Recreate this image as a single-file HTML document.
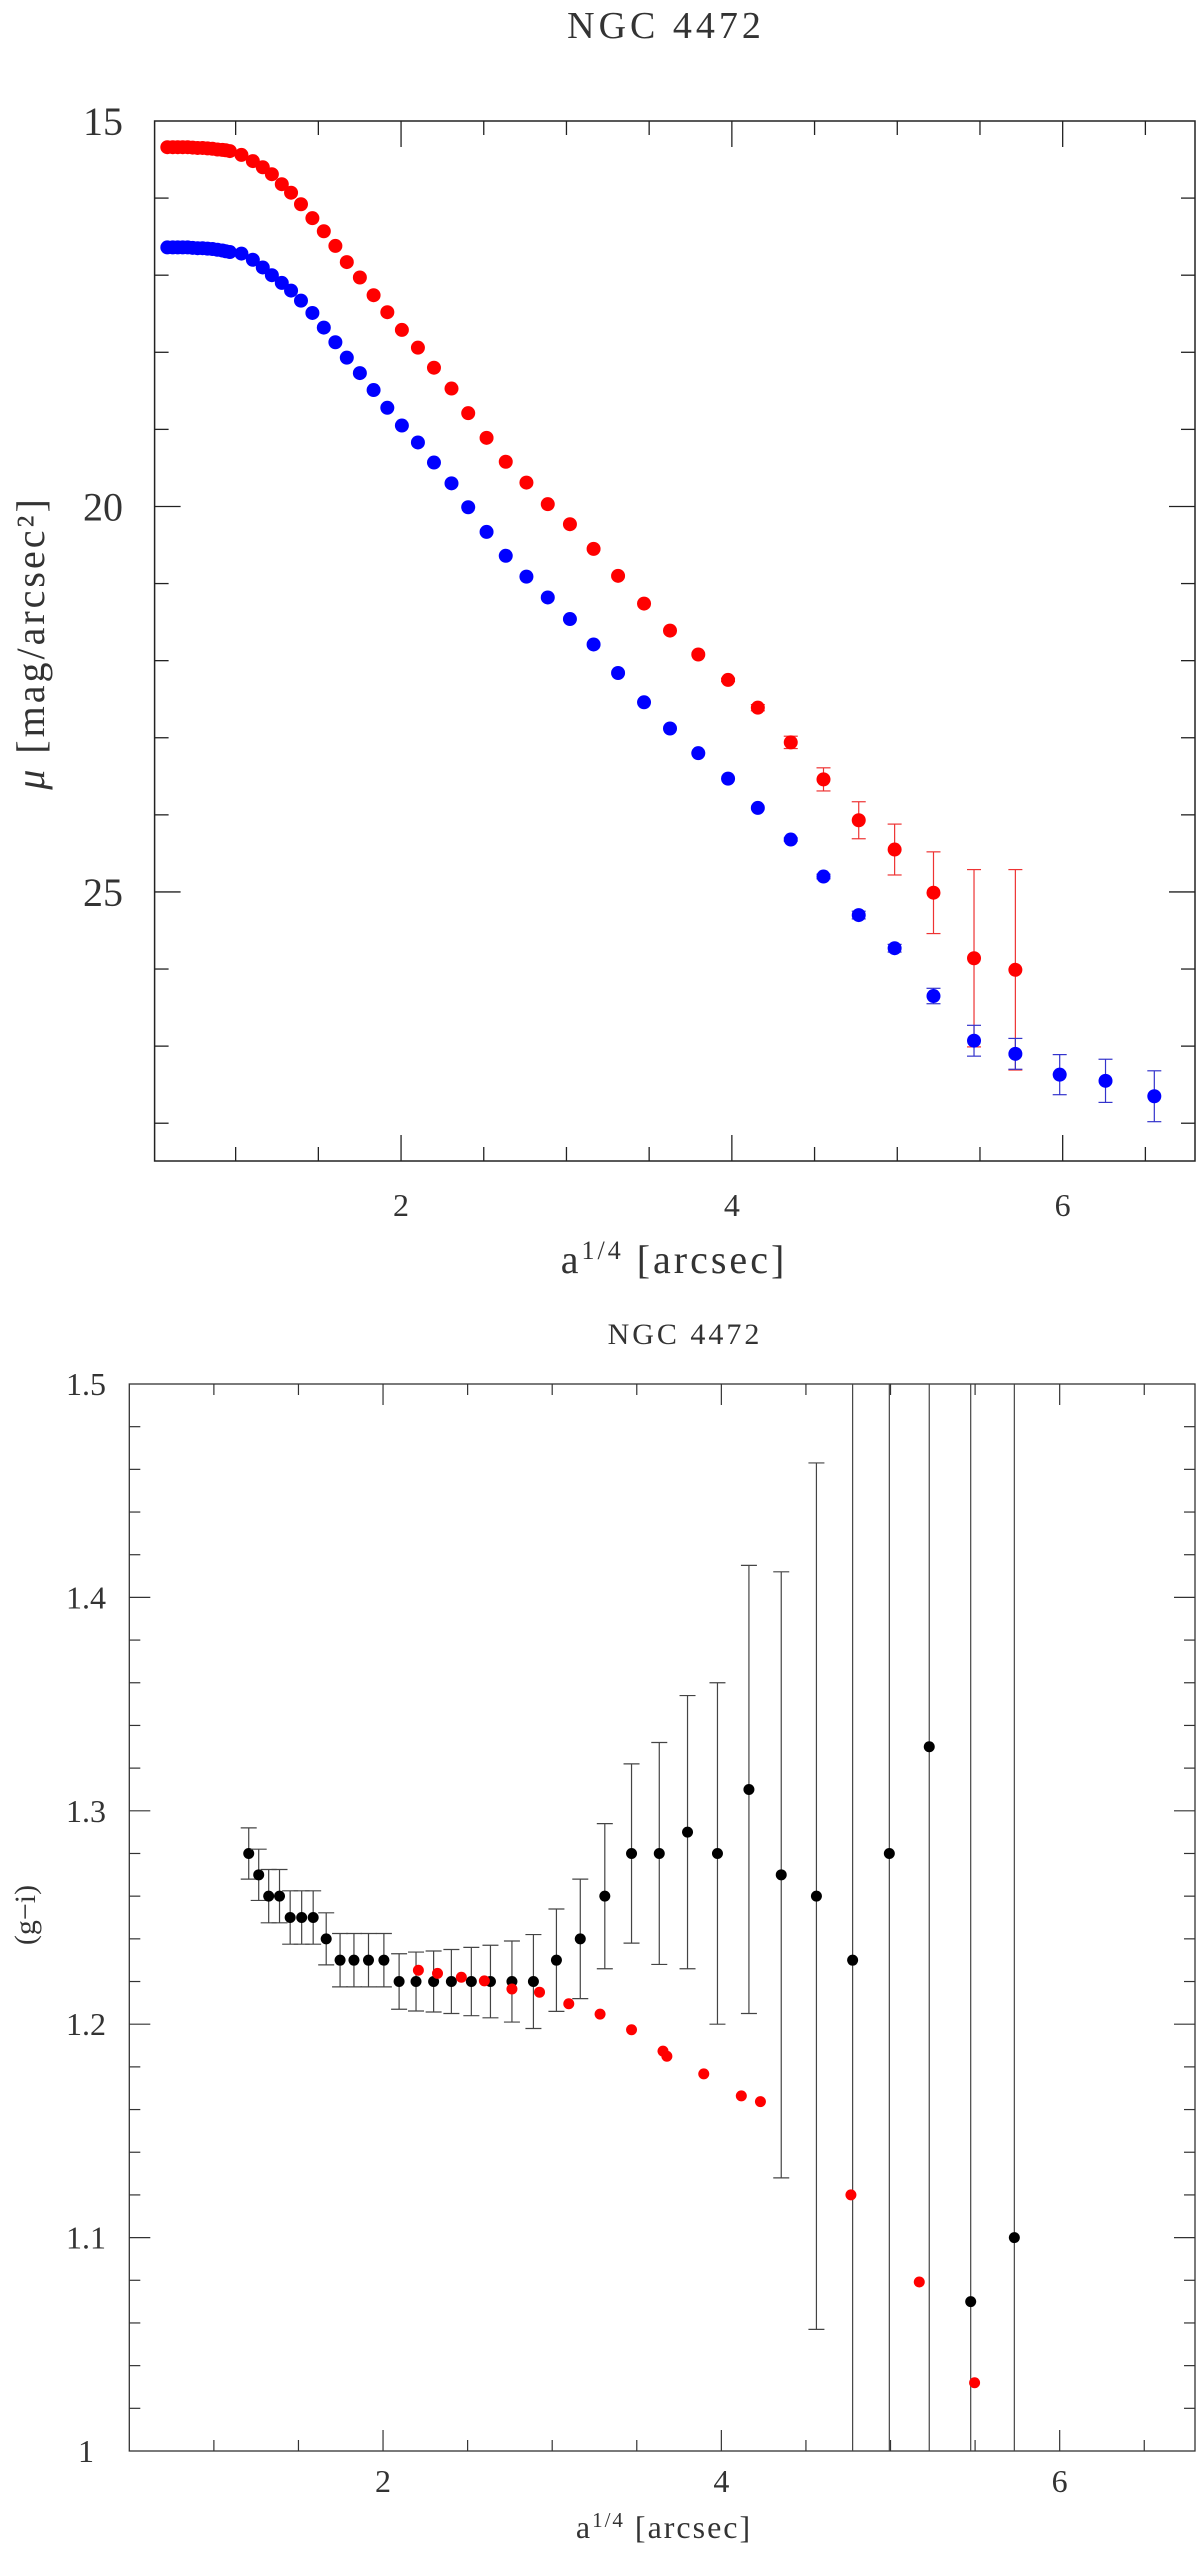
<!DOCTYPE html>
<html><head><meta charset="utf-8"><style>
html,body{margin:0;padding:0;background:#fff;}
svg{display:block;}
text{font-family:"Liberation Serif",serif;fill:#333;}
</style></head><body>
<svg id="chart" width="1200" height="2549" viewBox="0 0 1200 2549" xmlns="http://www.w3.org/2000/svg">
<g id="top"></g>
<g id="bot"></g>
</svg>
<script>
// ---- Top panel data ----
const topX = [0.587,0.62,0.65,0.68,0.71,0.74,0.77,0.80,0.83,0.86,0.89,0.92,0.94,0.965,1.035,1.104,1.164,1.219,1.279,1.335,1.395,1.464,1.533,1.603,1.672,1.751,1.834,1.917,2.005,2.102,2.199,2.305,2.406,2.517,2.633,2.758,2.887,3.021,3.164,3.312,3.469,3.626,3.797,3.977,4.157,4.356,4.554,4.767,4.984,5.219,5.464,5.714,5.982,6.259,6.554];
const redMu = [15.34,15.34,15.34,15.34,15.34,15.345,15.35,15.35,15.355,15.36,15.37,15.375,15.38,15.39,15.44,15.52,15.60,15.69,15.82,15.93,16.08,16.26,16.43,16.62,16.83,17.03,17.26,17.48,17.71,17.94,18.20,18.47,18.79,19.11,19.42,19.69,19.97,20.23,20.55,20.90,21.26,21.61,21.92,22.25,22.61,23.06,23.54,24.07,24.45,25.01,25.86,26.01];
const redErr = [0,0,0,0,0,0,0,0,0,0,0,0,0,0,0,0,0,0,0,0,0,0,0,0,0,0,0,0,0,0,0,0,0,0,0,0,0,0,0,0,0,0,0,0.02,0.04,0.08,0.15,0.24,0.33,0.53,1.15,1.3];
const blueMu = [16.64,16.64,16.64,16.64,16.64,16.645,16.65,16.65,16.655,16.66,16.67,16.68,16.69,16.70,16.72,16.80,16.90,17.00,17.10,17.20,17.33,17.49,17.68,17.87,18.07,18.27,18.49,18.72,18.95,19.17,19.43,19.70,20.01,20.33,20.64,20.91,21.18,21.46,21.79,22.16,22.54,22.88,23.20,23.53,23.91,24.32,24.80,25.30,25.73,26.35,26.93,27.10,27.37,27.45,27.65];
const blueErr = [0,0,0,0,0,0,0,0,0,0,0,0,0,0,0,0,0,0,0,0,0,0,0,0,0,0,0,0,0,0,0,0,0,0,0,0,0,0,0,0,0,0,0,0,0,0.02,0.03,0.05,0.05,0.1,0.2,0.2,0.26,0.28,0.33];
const topXTicks = [2,4,6];
const topYTicks = [15,20,25];
// ---- Bottom panel data ----
const blkX = [1.206,1.265,1.324,1.388,1.451,1.519,1.587,1.664,1.746,1.828,1.914,2.005,2.095,2.195,2.299,2.404,2.522,2.635,2.762,2.889,3.025,3.166,3.311,3.469,3.633,3.800,3.977,4.163,4.354,4.562,4.776,4.993,5.229,5.474,5.732];
const blkY = [1.28,1.27,1.26,1.26,1.25,1.25,1.25,1.24,1.23,1.23,1.23,1.23,1.22,1.22,1.22,1.22,1.22,1.22,1.22,1.22,1.23,1.24,1.26,1.28,1.28,1.29,1.28,1.31,1.27,1.26,1.23,1.28,1.33,1.07,1.10];
const blkErr = [0.012,0.012,0.0125,0.0125,0.0125,0.0125,0.0125,0.0122,0.0125,0.0125,0.0125,0.0125,0.013,0.0138,0.0143,0.015,0.016,0.017,0.019,0.022,0.024,0.028,0.034,0.042,0.052,0.064,0.080,0.105,0.142,0.203,0.5,0.5,0.5,0.6,0.6];
const redX2 = [2.209,2.322,2.463,2.599,2.762,2.925,3.098,3.283,3.469,3.655,3.678,3.896,4.118,4.231,4.766,5.170,5.497];
const redY2 = [1.2253,1.2238,1.222,1.2203,1.2165,1.215,1.2096,1.2047,1.1974,1.1874,1.185,1.1767,1.1664,1.1637,1.120,1.0792,1.032];
const botXTicks = [2,4,6];
const botYTicks = [1,1.1,1.2,1.3,1.4,1.5];
const botYLabels = ["1","1.1","1.2","1.3","1.4","1.5"];

const NS="http://www.w3.org/2000/svg";
function mk(parent,tag,attrs){const e=document.createElementNS(NS,tag);for(const k in attrs)e.setAttribute(k,attrs[k]);parent.appendChild(e);return e;}

// Top axes
const T={l:154.6,r:1195,t:121,b:1161,x0:0.51,x1:6.8,y0:15,y1:28.49};
const tx=a=>T.l+(a-T.x0)/(T.x1-T.x0)*(T.r-T.l);
const ty=m=>T.t+(m-T.y0)/(T.y1-T.y0)*(T.b-T.t);
// Bottom axes
const B={l:129.3,r:1195,t:1384,b:2451,x0:0.5,x1:6.8,y0:1.0,y1:1.5};
const bx=a=>B.l+(a-B.x0)/(B.x1-B.x0)*(B.r-B.l);
const by=v=>B.b-(v-B.y0)/(B.y1-B.y0)*(B.b-B.t);

const gt=document.getElementById('top'), gb=document.getElementById('bot');
function line(g,x1,y1,x2,y2,col,w){return mk(g,'line',{x1,y1,x2,y2,stroke:col,'stroke-width':w});}

// ---- top frame ----
let fr=mk(gt,'rect',{x:T.l,y:T.t,width:T.r-T.l,height:T.b-T.t,fill:'none',stroke:'#222','stroke-width':1.5});


for(let a=1;a<=6.5;a+=0.5){const x=tx(a);const L=(a%2===0)?26:14;line(gt,x,T.b,x,T.b-L,'#222',1.3);line(gt,x,T.t,x,T.t+L,'#222',1.3);}
for(let m=16;m<=28;m++){const y=ty(m);const L=(m%5===0)?26:14;line(gt,T.l,y,T.l+L,y,'#222',1.3);line(gt,T.r,y,T.r-L,y,'#222',1.3);}
topXTicks.forEach(a=>{const t=mk(gt,'text',{x:tx(a),y:1216,'font-size':32,'text-anchor':'middle'});t.textContent=a;

});
topYTicks.forEach(m=>{const t=mk(gt,'text',{x:103,y:ty(m)+14,'font-size':40,'text-anchor':'middle'});t.textContent=m;

});
// title
let tt=mk(gt,'text',{x:666,y:38,'font-size':38,'text-anchor':'middle','letter-spacing':4});tt.textContent='NGC 4472';


let xl=mk(gt,'text',{x:674,y:1273,'font-size':40,'text-anchor':'middle','letter-spacing':3});
xl.innerHTML='a<tspan dy="-14" font-size="26">1/4</tspan><tspan dy="14"> [arcsec]</tspan>';


let yl=mk(gt,'text',{x:0,y:0,'font-size':40,'text-anchor':'middle','letter-spacing':3,transform:'translate(44,643) rotate(-90)'});
yl.innerHTML='<tspan font-style="italic">μ</tspan> [mag/arcsec²]';



function series(g,xs,ys,errs,fx,fy,col,r,name,capw,ecol){
  for(let i=0;i<ys.length;i++){
    const x=fx(xs[i]),y=fy(ys[i]);
    if(errs[i]>0){
      const y1=Math.max(Math.min(fy(ys[i]-errs[i]),fy(ys[i]+errs[i])),g===gb?B.t:T.t);
      const y2=Math.min(Math.max(fy(ys[i]-errs[i]),fy(ys[i]+errs[i])),g===gb?B.b:T.b);
      const e=line(g,x,y1,x,y2,ecol,1.2);
      
      
      if(errs[i]<0.4||g!==gb){line(g,x-capw,y1,x+capw,y1,ecol,1.2);line(g,x-capw,y2,x+capw,y2,ecol,1.2);}
    }
    const c=mk(g,'circle',{cx:x,cy:y,r,fill:col});
    
    
  }
}
series(gt,topX,redMu,redErr,tx,ty,'#f00',7,'g-band',7,'#e33');
series(gt,topX,blueMu,blueErr,tx,ty,'#00f',7,'i-band',7,'#33c');

// ---- bottom frame ----
let fb=mk(gb,'rect',{x:B.l,y:B.t,width:B.r-B.l,height:B.b-B.t,fill:'none',stroke:'#333','stroke-width':1.3});


for(let a=1;a<=6.5;a+=0.5){const x=bx(a);const L=(a%2===0)?21:11;line(gb,x,B.b,x,B.b-L,'#333',1.2);line(gb,x,B.t,x,B.t+L,'#333',1.2);}
for(let k=1;k<25;k++){const v=1+k*0.02;const y=by(v);const L=(k%5===0)?21:11;line(gb,B.l,y,B.l+L,y,'#333',1.2);line(gb,B.r,y,B.r-L,y,'#333',1.2);}
botXTicks.forEach(a=>{const t=mk(gb,'text',{x:bx(a),y:2492,'font-size':32,'text-anchor':'middle'});t.textContent=a;

});
botYTicks.forEach((v,i)=>{const t=mk(gb,'text',{x:86,y:by(v)+11,'font-size':32,'text-anchor':'middle'});t.textContent=botYLabels[i];

});
let bt=mk(gb,'text',{x:685,y:1344,'font-size':30,'text-anchor':'middle','letter-spacing':3});bt.textContent='NGC 4472';


let bxl=mk(gb,'text',{x:664,y:2538,'font-size':32,'text-anchor':'middle','letter-spacing':2});
bxl.innerHTML='a<tspan dy="-11" font-size="21">1/4</tspan><tspan dy="11"> [arcsec]</tspan>';


let byl=mk(gb,'text',{x:0,y:0,'font-size':30,'text-anchor':'middle',transform:'translate(35,1915) rotate(-90)'});
byl.textContent='(g−i)';



series(gb,blkX,blkY,blkErr,bx,by,'#000',5.5,'color-measured',8,'#444');
series(gb,redX2,redY2,redX2.map(()=>0),bx,by,'#f00',5.5,'color-model',0,'#f00');
</script>
</body></html>
